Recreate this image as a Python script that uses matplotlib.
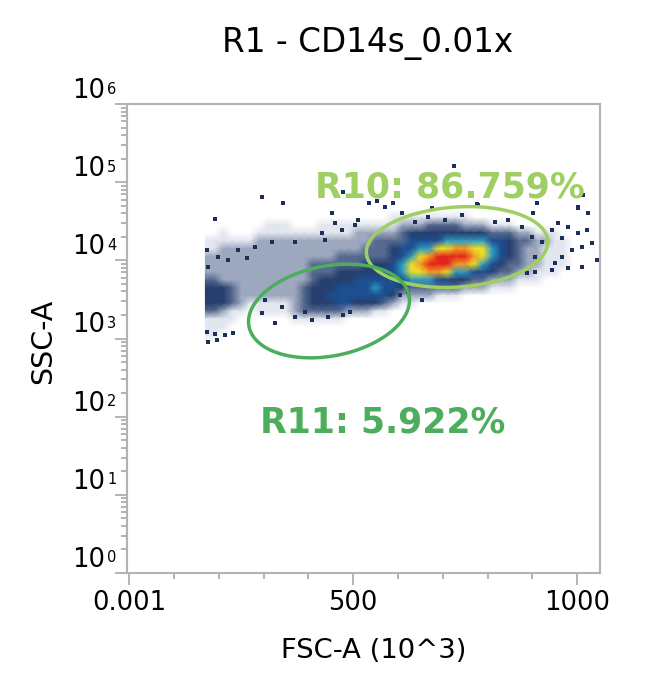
import numpy as np
import matplotlib
matplotlib.use("Agg")
import matplotlib.pyplot as plt
from matplotlib.colors import LinearSegmentedColormap
from matplotlib.ticker import FixedLocator, LogLocator, NullFormatter
from matplotlib.transforms import offset_copy

# ---------------- data ----------------
title = "R1 - CD14s_0.01x"
x_label = "FSC-A (10^3)"
y_label = "SSC-A"
x_major_ticks = [0.001, 500, 1000]
x_major_labels = ["0.001", "500", "1000"]
x_minor_ticks = [100, 200, 300, 400, 600, 700, 800, 900]
y_decades = [0, 1, 2, 3, 4, 5, 6]

# density grid: columns = FSC bins (centres 170..1030 step 20),
# rows = log10(SSC) bins (centres 4.85 down to 2.85 step 0.1); level 0 (none) .. 9 (peak)
fsc_centers = np.arange(170, 1040, 20)
log_ssc_centers = np.linspace(4.85, 2.85, 21)
density_rows = [
    "0000 0000 0000 0000 0000 0000 0000 0000 0000 0000 0000",
    "0000 0000 0000 0000 0000 0000 0000 0000 0000 0000 0000",
    "0000 0000 0000 0000 0000 0000 0000 0000 0000 0000 0000",
    "0000 0000 0000 0000 0000 0111 1111 1100 0000 0000 0000",
    "0000 0001 1100 0111 1111 1122 2333 3222 1110 0000 0000",
    "0010 0011 1111 1111 1222 2234 4444 4444 3332 2111 0000",
    "1111 1122 2222 2222 2223 3335 5556 6666 5543 3221 1000",
    "1122 2222 2222 2222 2233 3455 6677 8877 6543 2211 1000",
    "2222 2222 2222 2223 3333 3456 7899 9987 6543 2211 1000",
    "2222 2222 2222 3333 3344 4567 8999 8876 5433 2211 1000",
    "2222 2222 2222 3334 4444 5567 7887 6655 4332 2111 0000",
    "3322 2222 2222 3444 4555 5556 6655 4433 2221 1100 0000",
    "4443 2222 2223 4445 5556 5543 3333 3222 1110 0000 0000",
    "4443 2222 2223 4455 5555 5422 2211 1000 0000 0000 0000",
    "4443 2111 1123 4445 5444 3211 0000 0000 0000 0000 0000",
    "3321 1011 1123 3333 2221 1000 0000 0000 0000 0000 0000",
    "1111 0000 0011 1111 0000 0000 0000 0000 0000 0000 0000",
    "1110 0000 0000 0000 0000 0000 0000 0000 0000 0000 0000",
    "1100 0000 0000 0000 0000 0000 0000 0000 0000 0000 0000",
    "0000 0000 0000 0000 0000 0000 0000 0000 0000 0000 0000",
    "0000 0000 0000 0000 0000 0000 0000 0000 0000 0000 0000",
]

sparse_fsc = [296, 343, 192, 477, 535, 553, 571, 589, 725, 1013, 1002, 676, 776, 910,
              922, 944, 966, 980, 1002, 1022, 1033, 1044, 1011, 989, 966, 951, 980, 1011,
              1002, 1024, 901, 957, 846, 779, 944, 906, 888, 654, 622, 605, 174, 176,
              174, 192, 214, 232, 176, 196, 296, 341, 370, 392, 408, 444, 477, 493, 325,
              303, 453, 459, 475, 430, 504, 511, 437, 319, 370, 243, 281, 198, 221, 263,
              609, 667, 638, 705, 743, 817, 877, 899, 906]
sparse_log_ssc = [4.81, 4.73, 4.53, 4.87, 4.73, 4.76, 4.68, 4.73, 5.21, 4.84, 4.68, 4.67,
                  4.72, 4.73, 4.23, 4.39, 4.29, 4.43, 4.35, 4.39, 4.22, 4.00, 4.17, 4.13,
                  4.04, 3.96, 3.90, 3.91, 4.67, 4.61, 4.61, 4.48, 4.52, 4.71, 3.88, 3.85,
                  3.84, 3.49, 3.59, 3.56, 4.13, 3.91, 3.08, 3.06, 3.04, 3.07, 2.96, 2.98,
                  3.33, 3.40, 3.28, 3.34, 3.24, 3.28, 3.30, 3.34, 3.20, 3.49, 4.61, 4.48,
                  4.39, 4.35, 4.45, 4.52, 4.26, 4.23, 4.23, 4.13, 4.17, 4.04, 4.00, 4.03,
                  4.61, 4.55, 4.49, 4.52, 4.58, 4.49, 4.43, 4.30, 4.04]

# gates (ellipses): centre (FSC, log10 SSC), half axes (FSC units, decades), tilt (deg)
gate_names = ["R10", "R11"]
gate_percent = [86.759, 5.922]
gate_fsc = [732, 446]
gate_log_ssc = [4.17, 3.352]
gate_half_fsc = [203, 182]
gate_half_dec = [0.512, 0.576]
gate_angle = [4, 11]
gate_label_fsc = [716, 565]
gate_label_ssc = [6.46e4, 62]
gate_colors = ["#9fcf63", "#4cae5c"]

# ---------------- figure ----------------
W, H = 654, 690
fig = plt.figure(figsize=(W / 100, H / 100), dpi=100)
ax = fig.add_axes([127 / W, 117 / H, 473 / W, 469 / H])
ax.set_xlim(-5, 1051)
ax.set_yscale("log")
ax.set_ylim(1, 1e6)

density = np.array([[int(c) for c in r.replace(" ", "")] for r in density_rows], float)
cmap = LinearSegmentedColormap.from_list(
    "flow",
    [(0 / 9, "#ffffff"), (1 / 9, "#e2e6ee"), (2 / 9, "#9ba7bd"), (3 / 9, "#56698e"),
     (4 / 9, "#253f6e"), (5 / 9, "#1d4d8f"), (6 / 9, "#2e9bc2"), (7 / 9, "#ece22a"),
     (8 / 9, "#f59a22"), (9 / 9, "#e3261d")])
Xc, Yc = np.meshgrid(fsc_centers, 10 ** log_ssc_centers)
ax.pcolormesh(Xc, Yc, density, cmap=cmap, vmin=0, vmax=9, shading="gouraud", zorder=1)
ax.scatter(sparse_fsc, 10 ** np.array(sparse_log_ssc), s=5.5, marker="s",
           color="#1c2f5a", linewidths=0, zorder=2)

# gates
sx = 473 / (1051 + 5)   # px per FSC unit
sy = 469 / 6.0          # px per decade
t = np.linspace(0, 2 * np.pi, 300)
for cx, cy, a, b, ang, col in zip(gate_fsc, gate_log_ssc, gate_half_fsc,
                                  gate_half_dec, gate_angle, gate_colors):
    th = np.deg2rad(ang)
    u = a * sx * np.cos(t)
    v = b * sy * np.sin(t)
    du = u * np.cos(th) - v * np.sin(th)
    dv = u * np.sin(th) + v * np.cos(th)
    ax.plot(cx + du / sx, 10 ** (cy + dv / sy), color=col, lw=2.5, zorder=3)

for name, pct, lx, ly, col in zip(gate_names, gate_percent, gate_label_fsc,
                                  gate_label_ssc, gate_colors):
    ax.text(lx, ly, f"{name}: {pct:.3f}%", color=col, fontsize=25, fontweight="bold",
            ha="center", va="baseline", zorder=4)

# axes styling
grey = "#b3b3b3"
for s in ax.spines.values():
    s.set_color(grey)
    s.set_linewidth(1.5)
ax.xaxis.set_major_locator(FixedLocator(x_major_ticks))
ax.set_xticklabels(x_major_labels)
ax.xaxis.set_minor_locator(FixedLocator(x_minor_ticks))
ax.yaxis.set_major_locator(LogLocator(base=10, numticks=10))
ax.yaxis.set_minor_locator(LogLocator(base=10, subs=np.arange(2, 10), numticks=10))
ax.yaxis.set_major_formatter(NullFormatter())
ax.yaxis.set_minor_formatter(NullFormatter())
ax.tick_params(which="major", length=8.6, width=1.4, color=grey, direction="out")
ax.tick_params(which="minor", length=4.3, width=1.4, color=grey, direction="out")
ax.tick_params(axis="x", labelsize=18.5, pad=3.6, labelcolor="black")

ytr = ax.get_yaxis_transform()
for k in y_decades:
    ax.text(0, 10.0 ** k, "10", transform=offset_copy(ytr, fig=fig, x=-22, y=6, units="dots"),
            ha="right", va="baseline", fontsize=18.5, clip_on=False)
    ax.text(0, 10.0 ** k, str(k), transform=offset_copy(ytr, fig=fig, x=-20, y=10.5, units="dots"),
            ha="left", va="baseline", fontsize=10.5, clip_on=False)

fig.text(367.5 / W, 1 - 52 / H, title, ha="center", va="baseline", fontsize=23.5)
fig.text(374 / W, 1 - 658 / H, x_label, ha="center", va="baseline", fontsize=19.7)
fig.text(43 / W, 1 - 341 / H, y_label, ha="center", va="center", rotation=90, fontsize=20.5)

fig.savefig("out.png", dpi=100)
